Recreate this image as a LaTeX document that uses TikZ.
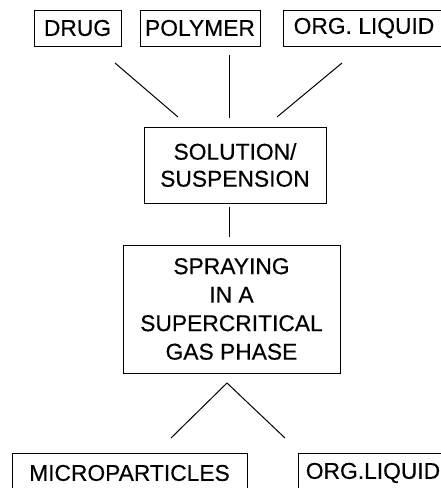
\documentclass[tikz,border=0pt]{standalone}
\usepackage{fontspec}
\newfontfamily\diafont[FakeBold=0.4]{Liberation Sans}
\begin{document}
\begin{tikzpicture}[x=1pt,y=-1pt,
  box/.style={draw=black,line width=1pt,inner sep=0pt,align=center,
    font=\diafont\fontsize{22.8}{28.5}\selectfont},
  conn/.style={draw=black,line width=1pt}]
\useasboundingbox (0,0) rectangle (441,488);
\clip (0,0) rectangle (441,488);
\node[box,minimum width=87pt,minimum height=36pt] (drug) at (77.5,28) {DRUG};
\node[box,minimum width=120pt,minimum height=36pt] (poly) at (200,28) {POLYMER};
\node[box,minimum width=162pt,minimum height=36pt] (org) at (364,28) {ORG. LIQUID};
\node[box,minimum width=182pt,minimum height=76pt,font=\diafont\fontsize{22.8}{27}\selectfont] (sol) at (235,165) {SOLUTION/\\SUSPENSION};
\node[box,minimum width=217pt,minimum height=128pt] (spray) at (231.5,309) {SPRAYING\\IN A\\SUPERCRITICAL\\GAS PHASE};
\node[box,minimum width=235pt,minimum height=40pt] (micro) at (129.5,473) {MICROPARTICLES};
\node[box,minimum width=150pt,minimum height=40pt] (org2) at (373,473) {ORG.LIQUID};
\coordinate (a1) at (115,63);
\coordinate (a2) at (178,117);
\coordinate (b1) at (229,55);
\coordinate (b2) at (229,118);
\coordinate (c1) at (342,63);
\coordinate (c2) at (277,117);
\coordinate (d1) at (229,207);
\coordinate (d2) at (229,237);
\coordinate (apex) at (227,383);
\coordinate (e1) at (171,438);
\coordinate (e2) at (285,438);
\draw[conn] (a1) -- (a2);
\draw[conn] (b1) -- (b2);
\draw[conn] (c1) -- (c2);
\draw[conn] (d1) -- (d2);
\draw[conn] (e1) -- (apex) -- (e2);
\end{tikzpicture}
\end{document}
